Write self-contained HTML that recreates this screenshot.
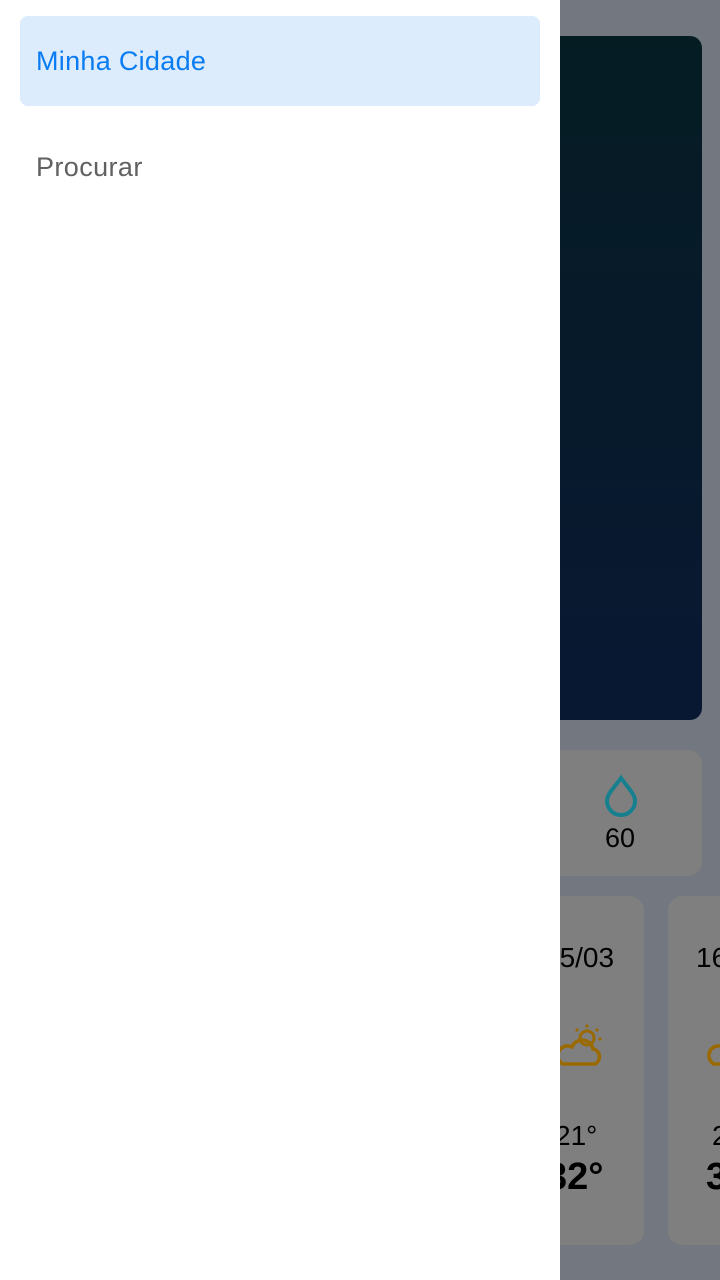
<!DOCTYPE html>
<html><head><meta charset="utf-8"><style>
*{margin:0;padding:0;box-sizing:border-box}
html,body{width:720px;height:1280px;overflow:hidden}
body{position:relative;background:#73777f;font-family:"Liberation Sans",Roboto,sans-serif}
.abs{position:absolute}
.card{background:#7f7f7f;border-radius:14px;position:absolute;overflow:hidden}
</style></head><body>
<div class="abs" style="left:500px;top:36px;width:202px;height:684px;border-radius:12px;background:linear-gradient(#061c23,#081833)"></div>
<div class="card" style="left:500px;top:750px;width:202px;height:126px">
 <svg class="abs" style="left:102px;top:24px" width="38" height="44" viewBox="0 0 38 44"><path d="M19 4 C12 14 5 20 5 27 A14 14 0 0 0 33 27 C33 20 26 14 19 4Z" fill="none" stroke="#17808f" stroke-width="4"/></svg>
 <div class="abs" style="left:105px;top:73px;font-size:27px;color:#000">60</div>
</div>
<div class="card" style="left:500px;top:896px;width:144px;height:349px">
 <div class="abs" style="left:44px;top:46px;font-size:28px;color:#000">15/03</div>
 <svg class="abs" style="left:55px;top:126px" width="50" height="45" viewBox="0 0 50 45"><path d="M8 42 H40 A8 8 0 0 0 38 27 A11 11 0 0 0 17 25 A9 9 0 0 0 8 42Z" fill="none" stroke="#9a6a00" stroke-width="3.5"/><circle cx="32" cy="16" r="7" fill="none" stroke="#9a6a00" stroke-width="3"/><g fill="#9a6a00"><circle cx="32" cy="4" r="1.6"/><circle cx="42" cy="8" r="1.6"/><circle cx="45" cy="17" r="1.6"/><circle cx="22" cy="8" r="1.6"/></g></svg>
 <div class="abs" style="left:55px;top:224px;font-size:28px;color:#000">21°</div>
 <div class="abs" style="left:46px;top:260px;font-size:38px;font-weight:bold;color:#000">32°</div>
</div>
<div class="card" style="left:668px;top:896px;width:52px;height:349px;border-radius:14px 0 0 14px">
 <div class="abs" style="left:28px;top:46px;font-size:28px;color:#000;white-space:nowrap">16/03</div>
 <svg class="abs" style="left:38px;top:126px" width="50" height="45" viewBox="0 0 50 45"><path d="M8 42 H40 A8 8 0 0 0 38 27 A11 11 0 0 0 17 25 A9 9 0 0 0 8 42Z" fill="none" stroke="#9a6a00" stroke-width="3.5"/></svg>
 <div class="abs" style="left:44px;top:224px;font-size:28px;color:#000">21°</div>
 <div class="abs" style="left:38px;top:260px;font-size:38px;font-weight:bold;color:#000">33°</div>
</div>
<div class="abs" style="left:0;top:0;width:560px;height:1280px;background:#fff">
 <div class="abs" style="left:20px;top:16px;width:520px;height:90px;background:#dcecfd;border-radius:8px">
  <div class="abs" style="left:16px;top:30px;font-size:27px;letter-spacing:0.3px;color:#0a7cf2;white-space:nowrap">Minha Cidade</div>
 </div>
 <div class="abs" style="left:36px;top:152px;font-size:27px;letter-spacing:0.4px;color:#616161">Procurar</div>
</div>
</body></html>
